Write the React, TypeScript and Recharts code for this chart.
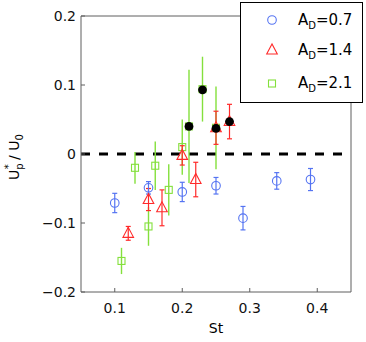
import {
  ScatterChart,
  Scatter,
  XAxis,
  YAxis,
  ErrorBar,
  ReferenceLine,
  Legend,
} from "recharts";

// A_D = 0.7
const blueSt = [0.1, 0.15, 0.2, 0.25, 0.29, 0.34, 0.39];
const blueU = [-0.071, -0.049, -0.055, -0.046, -0.093, -0.039, -0.037];
const blueErr = [0.014, 0.009, 0.014, 0.012, 0.017, 0.012, 0.016];

// A_D = 1.4
const redSt = [0.12, 0.15, 0.17, 0.2, 0.22, 0.25, 0.27];
const redU = [-0.115, -0.066, -0.078, -0.002, -0.037, 0.038, 0.047];
const redErr = [0.01, 0.016, 0.026, 0.014, 0.025, 0.024, 0.025];

// A_D = 2.1
const greenSt = [0.11, 0.13, 0.15, 0.16, 0.18, 0.2, 0.21, 0.23, 0.25];
const greenU = [-0.155, -0.02, -0.105, -0.017, -0.052, 0.01, 0.04, 0.094, 0.038];
const greenErr = [0.019, 0.023, 0.028, 0.035, 0.037, 0.04, 0.082, 0.047, 0.06];

// filled black points
const blackSt = [0.21, 0.23, 0.25, 0.27];
const blackU = [0.04, 0.093, 0.037, 0.047];

const adValues = ["0.7", "1.4", "2.1"];

const xTicks = [0.1, 0.2, 0.3, 0.4];
const yTicks = [-0.2, -0.1, 0, 0.1, 0.2];
const yTickLabels = ["\u22120.2", "\u22120.1", "0", "0.1", "0.2"];

const FONT = "DejaVu Sans, sans-serif";
const BLUE = "#5574f2";
const RED = "#ff2a2a";
const GREEN = "#84e03c";
const AXIS = "#5f5f5f";

const toPoints = (st: number[], u: number[], err?: number[]) =>
  st.map((s, i) => ({ st: s, u: u[i], err: err ? err[i] : 0 }));

function OpenCircle({ cx, cy }: any) {
  return <circle cx={cx} cy={cy} r={4.3} fill="none" stroke={BLUE} strokeWidth={1.1} />;
}

function OpenTriangle({ cx, cy }: any) {
  return (
    <polygon
      points={`${cx},${cy - 6} ${cx - 5.3},${cy + 4} ${cx + 5.3},${cy + 4}`}
      fill="none"
      stroke={RED}
      strokeWidth={1.1}
    />
  );
}

function OpenSquare({ cx, cy }: any) {
  return (
    <rect x={cx - 3.5} y={cy - 3.5} width={7} height={7} fill="none" stroke={GREEN} strokeWidth={1.1} />
  );
}

function BlackDot({ cx, cy }: any) {
  return <circle cx={cx} cy={cy} r={4.4} fill="#000" />;
}

const markers = [OpenCircle, OpenTriangle, OpenSquare];

function LegendBox() {
  const rows = [18, 48, 81.5];
  return (
    <svg width={123} height={101} style={{ display: "block" }}>
      <rect x={0.5} y={0.5} width={122} height={100} fill="#fff" stroke="#000" />
      {adValues.map((v, i) => {
        const M = markers[i];
        return (
          <g key={v}>
            <M cx={32} cy={rows[i]} />
            <text x={58} y={rows[i] + 4.5} fontFamily={FONT} fontSize={15} fill="#000">
              A
              <tspan dy={4} fontSize={10}>D</tspan>
              <tspan dy={-4}>={v}</tspan>
            </text>
          </g>
        );
      })}
    </svg>
  );
}

function YLabel() {
  const x = 19;
  const y = 157;
  return (
    <text
      x={x}
      y={y}
      transform={`rotate(-90 ${x} ${y})`}
      textAnchor="middle"
      fontFamily={FONT}
      fontSize={14}
      fill="#000"
    >
      U
      <tspan dy={4} fontSize={10}>p</tspan>
      <tspan dx={-6} dy={-11} fontSize={10}>*</tspan>
      <tspan dy={7}> / U</tspan>
      <tspan dy={4} fontSize={10}>0</tspan>
    </text>
  );
}

export default function App() {
  const tickStyle = { fontFamily: FONT, fontSize: 14, fill: "#111" };
  return (
    <div style={{ position: "absolute", left: 0, top: 0, background: "#fff" }}>
      <ScatterChart width={366} height={342} margin={{ top: 15, right: 14, bottom: 0, left: 0 }}>
        <XAxis
          type="number"
          dataKey="st"
          domain={[0.05, 0.45]}
          ticks={xTicks}
          allowDataOverflow
          height={50}
          tickSize={-4}
          tickMargin={15}
          tick={tickStyle}
          tickFormatter={(v: number) => v.toFixed(1)}
          stroke={AXIS}
          label={{ value: "St", position: "insideBottom", offset: 9, fontFamily: FONT, fontSize: 14, fill: "#000" }}
        />
        <XAxis
          xAxisId="top"
          orientation="top"
          type="number"
          domain={[0.05, 0.45]}
          ticks={xTicks}
          allowDataOverflow
          height={1}
          tickSize={-4}
          tick={false}
          stroke={AXIS}
        />
        <YAxis
          type="number"
          dataKey="u"
          domain={[-0.2, 0.2]}
          ticks={yTicks}
          allowDataOverflow
          width={81}
          tickSize={-4}
          tickMargin={9}
          tick={tickStyle}
          tickFormatter={(v: number) => yTickLabels[yTicks.indexOf(v)] ?? String(v)}
          stroke={AXIS}
          label={{ content: () => <YLabel /> }}
        />
        <YAxis
          yAxisId="right"
          orientation="right"
          type="number"
          domain={[-0.2, 0.2]}
          ticks={yTicks}
          allowDataOverflow
          width={1}
          tickSize={-4}
          tick={false}
          stroke={AXIS}
        />
        <ReferenceLine y={0} stroke="#000" strokeWidth={3} strokeDasharray="9 9" />
        <Scatter
          name="A_D=2.1"
          data={toPoints(greenSt, greenU, greenErr)}
          shape={(p: any) => <OpenSquare {...p} />}
          isAnimationActive={false}
        >
          <ErrorBar dataKey="err" direction="y" width={0} stroke={GREEN} strokeWidth={1.4} isAnimationActive={false} />
        </Scatter>
        <Scatter
          name="A_D=1.4"
          data={toPoints(redSt, redU, redErr)}
          shape={(p: any) => <OpenTriangle {...p} />}
          isAnimationActive={false}
        >
          <ErrorBar dataKey="err" direction="y" width={2.5} stroke={RED} strokeWidth={1.2} isAnimationActive={false} />
        </Scatter>
        <Scatter
          name="A_D=0.7"
          data={toPoints(blueSt, blueU, blueErr)}
          shape={(p: any) => <OpenCircle {...p} />}
          isAnimationActive={false}
        >
          <ErrorBar dataKey="err" direction="y" width={2.5} stroke={BLUE} strokeWidth={1.2} isAnimationActive={false} />
        </Scatter>
        <Scatter
          name="mean"
          legendType="none"
          data={toPoints(blackSt, blackU)}
          shape={(p: any) => <BlackDot {...p} />}
          isAnimationActive={false}
        />
        <Legend
          layout="vertical"
          verticalAlign="middle"
          align="center"
          content={() => <LegendBox />}
          wrapperStyle={{ left: 240, top: 2, width: 123, height: 101 }}
        />
      </ScatterChart>
    </div>
  );
}
